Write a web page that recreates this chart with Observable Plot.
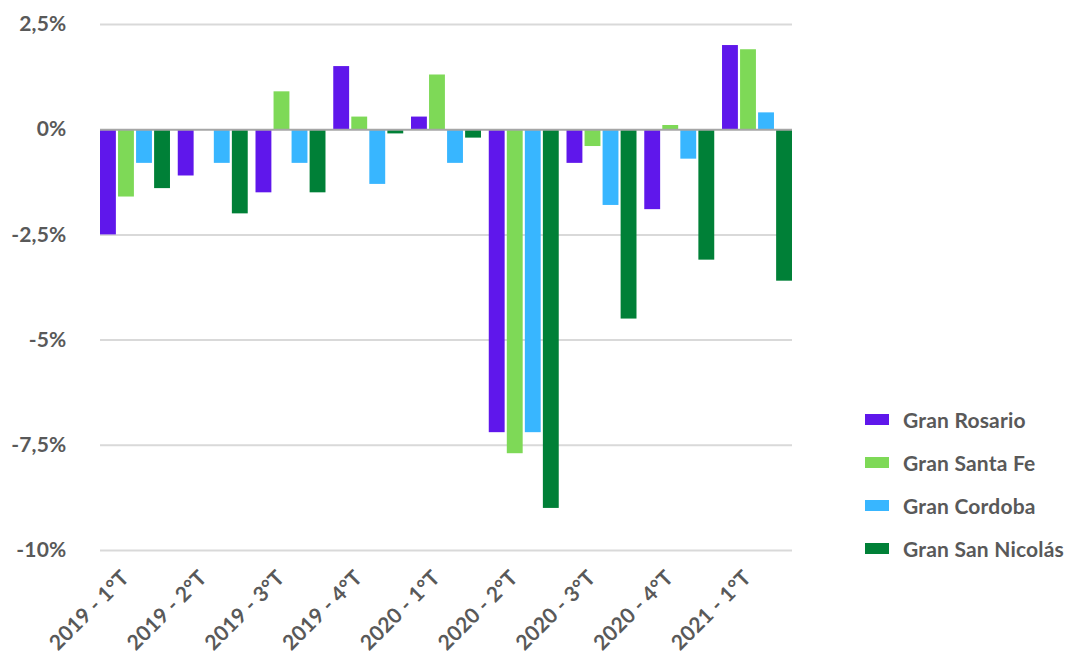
<!DOCTYPE html>
<html>
<head>
<meta charset="utf-8">
<script src="https://cdn.jsdelivr.net/npm/d3@7"></script>
<script src="https://cdn.jsdelivr.net/npm/@observablehq/plot@0.6"></script>
<style>
  html, body { margin: 0; padding: 0; background: #fff; }
  #wrap { position: relative; width: 1065px; height: 659px; font-family: Lato, sans-serif; }
  #legend { position: absolute; left: 865px; top: 398px; }
  .item { display: flex; align-items: center; height: 43px; font-weight: 700; font-size: 21px; letter-spacing: 0.2px; color: #595959; }
  .sw { width: 24px; height: 11px; margin-right: 14px; }
</style>
</head>
<body>
<div id="wrap"></div>
<script>
const quarters = ["2019 - 1°T", "2019 - 2°T", "2019 - 3°T", "2019 - 4°T", "2020 - 1°T", "2020 - 2°T", "2020 - 3°T", "2020 - 4°T", "2021 - 1°T"];
const seriesNames = ["Gran Rosario", "Gran Santa Fe", "Gran Cordoba", "Gran San Nicolás"];
const colors = ["#5F17EB", "#7ED957", "#38B6FF", "#008037"];
const granRosario   = [-2.5, -1.1, -1.5, 1.5, 0.3, -7.2, -0.8, -1.9, 2.0];
const granSantaFe   = [-1.6, 0.0, 0.9, 0.3, 1.3, -7.7, -0.4, 0.1, 1.9];
const granCordoba   = [-0.8, -0.8, -0.8, -1.3, -0.8, -7.2, -1.8, -0.7, 0.4];
const granSanNicolas = [-1.4, -2.0, -1.5, -0.1, -0.2, -9.0, -4.5, -3.1, -3.6];
const yTicks = [2.5, 0, -2.5, -5, -7.5, -10];

const seriesValues = [granRosario, granSantaFe, granCordoba, granSanNicolas];
const data = [];
quarters.forEach((q, i) => seriesNames.forEach((s, j) => data.push({quarter: q, series: s, value: seriesValues[j][i]})));

const fmt = d => (d === 0 ? "0" : String(d).replace(".", ",")) + "%";
const plotW = 1065 - 100 - 273;

const chart = Plot.plot({
  width: 1065,
  height: 659,
  marginLeft: 100,
  marginRight: 273,
  marginTop: 24,
  marginBottom: 109,
  style: {fontFamily: "Lato, sans-serif", fontWeight: 700, fontSize: "21px", letterSpacing: "0.2px", color: "#595959", background: "#fff"},
  fx: {domain: quarters, paddingInner: 0.1, paddingOuter: 0, round: false, label: null},
  x: {domain: seriesNames, paddingInner: 0.12, paddingOuter: 0, round: false, axis: null},
  y: {domain: [-10, 2.5], label: null},
  color: {domain: seriesNames, range: colors},
  marks: [
    Plot.axisY(yTicks.filter(d => d !== 0), {tickSize: -plotW, tickFormat: () => "", stroke: "#d9d9d9", strokeWidth: 2, strokeOpacity: 1, label: null}),
    Plot.barY(data, {fx: "quarter", x: "series", y: "value", fill: "series"}),
    Plot.axisY([0], {tickSize: -plotW, tickFormat: () => "", stroke: "#a6a6a6", strokeWidth: 2, strokeOpacity: 1, label: null}),
    Plot.axisY(yTicks, {tickSize: 0, tickPadding: 34, tickFormat: fmt, label: null, fill: "#595959"}),
    Plot.axisFx({anchor: "bottom", tickSize: 0, tickRotate: -45, tickPadding: 24, dx: -10, label: null, fill: "#595959"})
  ]
});

const wrap = document.getElementById("wrap");
wrap.appendChild(chart);
const legend = document.createElement("div");
legend.id = "legend";
seriesNames.forEach((s, i) => {
  const it = document.createElement("div");
  it.className = "item";
  const sw = document.createElement("span");
  sw.className = "sw";
  sw.style.background = colors[i];
  it.appendChild(sw);
  it.appendChild(document.createTextNode(s));
  legend.appendChild(it);
});
wrap.appendChild(legend);
</script>
</body>
</html>
